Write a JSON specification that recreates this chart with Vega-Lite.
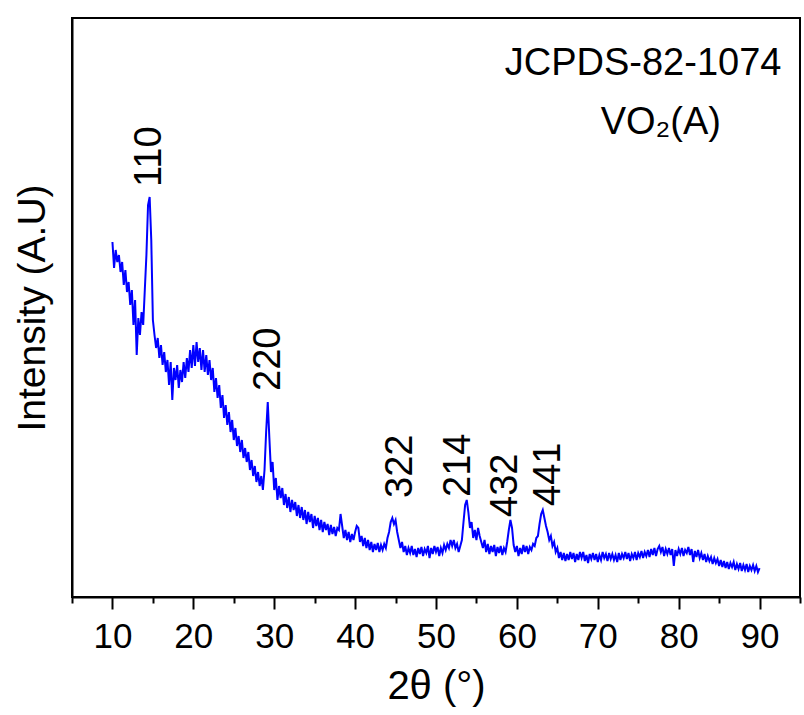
{
  "$schema": "https://vega.github.io/schema/vega-lite/v6.json",
  "width": 728,
  "height": 579,
  "autosize": {"type": "none"},
  "padding": {"left": 72, "top": 18, "right": 4, "bottom": 118},
  "background": "white",
  "config": {
    "view": {"stroke": "black", "strokeWidth": 2},
    "font": "Liberation Sans"
  },
  "datasets": {
    "xrd": [
      {"x":10.0,"y":355},{"x":10.2,"y":329},{"x":10.4,"y":347},{"x":10.6,"y":335},{"x":10.8,"y":342},
      {"x":11.0,"y":325},{"x":11.2,"y":335},{"x":11.4,"y":312},{"x":11.6,"y":327},{"x":11.8,"y":305},
      {"x":12.0,"y":315},{"x":12.2,"y":292},{"x":12.4,"y":307},{"x":12.6,"y":272},{"x":12.8,"y":297},
      {"x":13.0,"y":242},{"x":13.2,"y":279},{"x":13.4,"y":262},{"x":13.6,"y":285},{"x":13.8,"y":272},
      {"x":14.0,"y":307},{"x":14.2,"y":342},{"x":14.4,"y":392},{"x":14.6,"y":400},{"x":14.8,"y":357},
      {"x":15.0,"y":277},{"x":15.2,"y":262},{"x":15.4,"y":249},{"x":15.6,"y":259},{"x":15.8,"y":239},
      {"x":16.0,"y":252},{"x":16.2,"y":232},{"x":16.4,"y":245},{"x":16.6,"y":225},{"x":16.8,"y":237},
      {"x":17.0,"y":212},{"x":17.2,"y":235},{"x":17.4,"y":197},{"x":17.6,"y":229},{"x":17.8,"y":217},
      {"x":18.0,"y":232},{"x":18.2,"y":209},{"x":18.4,"y":227},{"x":18.6,"y":215},{"x":18.8,"y":235},
      {"x":19.0,"y":219},{"x":19.2,"y":239},{"x":19.4,"y":225},{"x":19.6,"y":247},{"x":19.8,"y":229},
      {"x":20.0,"y":252},{"x":20.2,"y":231},{"x":20.4,"y":255},{"x":20.6,"y":235},{"x":20.8,"y":249},
      {"x":21.0,"y":227},{"x":21.2,"y":247},{"x":21.4,"y":225},{"x":21.6,"y":242},{"x":21.8,"y":222},
      {"x":22.0,"y":237},{"x":22.2,"y":217},{"x":22.4,"y":229},{"x":22.6,"y":205},{"x":22.8,"y":219},
      {"x":23.0,"y":199},{"x":23.2,"y":212},{"x":23.4,"y":189},{"x":23.6,"y":202},{"x":23.8,"y":179},
      {"x":24.0,"y":192},{"x":24.2,"y":172},{"x":24.4,"y":185},{"x":24.6,"y":165},{"x":24.8,"y":177},
      {"x":25.0,"y":157},{"x":25.2,"y":169},{"x":25.4,"y":151},{"x":25.6,"y":161},{"x":25.8,"y":145},
      {"x":26.0,"y":157},{"x":26.2,"y":139},{"x":26.4,"y":149},{"x":26.6,"y":135},{"x":26.8,"y":145},
      {"x":27.0,"y":127},{"x":27.2,"y":137},{"x":27.4,"y":121},{"x":27.6,"y":131},{"x":27.8,"y":115},
      {"x":28.0,"y":125},{"x":28.2,"y":111},{"x":28.4,"y":121},{"x":28.6,"y":107},{"x":28.8,"y":127},
      {"x":29.0,"y":165},{"x":29.2,"y":195},{"x":29.4,"y":159},{"x":29.6,"y":125},{"x":29.8,"y":135},
      {"x":30.0,"y":107},{"x":30.2,"y":119},{"x":30.4,"y":97},{"x":30.6,"y":111},{"x":30.8,"y":99},
      {"x":31.0,"y":109},{"x":31.2,"y":92},{"x":31.4,"y":103},{"x":31.6,"y":89},{"x":31.8,"y":100},
      {"x":32.0,"y":85},{"x":32.2,"y":97},{"x":32.4,"y":87},{"x":32.6,"y":95},{"x":32.8,"y":81},
      {"x":33.0,"y":92},{"x":33.2,"y":79},{"x":33.4,"y":90},{"x":33.6,"y":77},{"x":33.8,"y":87},
      {"x":34.0,"y":73},{"x":34.2,"y":85},{"x":34.4,"y":75},{"x":34.6,"y":83},{"x":34.8,"y":69},
      {"x":35.0,"y":81},{"x":35.2,"y":71},{"x":35.4,"y":79},{"x":35.6,"y":67},{"x":35.8,"y":77},
      {"x":36.0,"y":65},{"x":36.2,"y":75},{"x":36.4,"y":67},{"x":36.6,"y":73},{"x":36.8,"y":62},
      {"x":37.0,"y":72},{"x":37.2,"y":63},{"x":37.4,"y":70},{"x":37.6,"y":61},{"x":37.8,"y":69},
      {"x":38.0,"y":67},{"x":38.2,"y":83},{"x":38.4,"y":71},{"x":38.6,"y":59},{"x":38.8,"y":67},
      {"x":39.0,"y":57},{"x":39.2,"y":65},{"x":39.4,"y":55},{"x":39.6,"y":63},{"x":39.8,"y":57},
      {"x":40.0,"y":65},{"x":40.2,"y":71},{"x":40.4,"y":69},{"x":40.6,"y":55},{"x":40.8,"y":61},
      {"x":41.0,"y":51},{"x":41.2,"y":59},{"x":41.4,"y":49},{"x":41.6,"y":57},{"x":41.8,"y":47},
      {"x":42.0,"y":55},{"x":42.2,"y":45},{"x":42.4,"y":53},{"x":42.6,"y":47},{"x":42.8,"y":54},
      {"x":43.0,"y":45},{"x":43.2,"y":52},{"x":43.4,"y":47},{"x":43.6,"y":53},{"x":43.8,"y":49},
      {"x":44.0,"y":59},{"x":44.2,"y":65},{"x":44.4,"y":75},{"x":44.6,"y":79},{"x":44.8,"y":73},
      {"x":45.0,"y":77},{"x":45.2,"y":65},{"x":45.4,"y":57},{"x":45.6,"y":49},{"x":45.8,"y":55},
      {"x":46.0,"y":45},{"x":46.2,"y":51},{"x":46.4,"y":42},{"x":46.6,"y":49},{"x":46.8,"y":44},
      {"x":47.0,"y":51},{"x":47.2,"y":42},{"x":47.4,"y":48},{"x":47.6,"y":40},{"x":47.8,"y":49},
      {"x":48.0,"y":43},{"x":48.2,"y":50},{"x":48.4,"y":41},{"x":48.6,"y":48},{"x":48.8,"y":44},
      {"x":49.0,"y":51},{"x":49.2,"y":39},{"x":49.4,"y":49},{"x":49.6,"y":43},{"x":49.8,"y":51},
      {"x":50.0,"y":45},{"x":50.2,"y":50},{"x":50.4,"y":41},{"x":50.6,"y":49},{"x":50.8,"y":44},
      {"x":51.0,"y":52},{"x":51.2,"y":47},{"x":51.4,"y":53},{"x":51.6,"y":49},{"x":51.8,"y":57},
      {"x":52.0,"y":51},{"x":52.2,"y":57},{"x":52.4,"y":49},{"x":52.6,"y":53},{"x":52.8,"y":45},
      {"x":53.0,"y":51},{"x":53.2,"y":57},{"x":53.4,"y":75},{"x":53.6,"y":92},{"x":53.8,"y":97},
      {"x":54.0,"y":85},{"x":54.2,"y":69},{"x":54.4,"y":75},{"x":54.6,"y":59},{"x":54.8,"y":67},
      {"x":55.0,"y":57},{"x":55.2,"y":69},{"x":55.4,"y":61},{"x":55.6,"y":55},{"x":55.8,"y":49},
      {"x":56.0,"y":57},{"x":56.2,"y":45},{"x":56.4,"y":53},{"x":56.6,"y":43},{"x":56.8,"y":51},
      {"x":57.0,"y":45},{"x":57.2,"y":52},{"x":57.4,"y":41},{"x":57.6,"y":50},{"x":57.8,"y":44},
      {"x":58.0,"y":51},{"x":58.2,"y":42},{"x":58.4,"y":49},{"x":58.6,"y":45},{"x":58.8,"y":55},
      {"x":59.0,"y":67},{"x":59.2,"y":77},{"x":59.4,"y":69},{"x":59.6,"y":52},{"x":59.8,"y":45},
      {"x":60.0,"y":51},{"x":60.2,"y":41},{"x":60.4,"y":49},{"x":60.6,"y":43},{"x":60.8,"y":52},
      {"x":61.0,"y":45},{"x":61.2,"y":51},{"x":61.4,"y":43},{"x":61.6,"y":50},{"x":61.8,"y":47},
      {"x":62.0,"y":53},{"x":62.2,"y":51},{"x":62.4,"y":59},{"x":62.6,"y":61},{"x":62.8,"y":73},
      {"x":63.0,"y":83},{"x":63.2,"y":87},{"x":63.4,"y":79},{"x":63.6,"y":71},{"x":63.8,"y":65},
      {"x":64.0,"y":57},{"x":64.2,"y":61},{"x":64.4,"y":51},{"x":64.6,"y":55},{"x":64.8,"y":45},
      {"x":65.0,"y":49},{"x":65.2,"y":39},{"x":65.4,"y":45},{"x":65.6,"y":37},{"x":65.8,"y":44},
      {"x":66.0,"y":36},{"x":66.2,"y":43},{"x":66.4,"y":37},{"x":66.6,"y":45},{"x":66.8,"y":38},
      {"x":67.0,"y":44},{"x":67.2,"y":35},{"x":67.4,"y":43},{"x":67.6,"y":37},{"x":67.8,"y":45},
      {"x":68.0,"y":39},{"x":68.2,"y":45},{"x":68.4,"y":36},{"x":68.6,"y":42},{"x":68.8,"y":34},
      {"x":69.0,"y":43},{"x":69.2,"y":38},{"x":69.4,"y":44},{"x":69.6,"y":37},{"x":69.8,"y":43},
      {"x":70.0,"y":35},{"x":70.2,"y":42},{"x":70.4,"y":37},{"x":70.6,"y":45},{"x":70.8,"y":39},
      {"x":71.0,"y":43},{"x":71.2,"y":36},{"x":71.4,"y":44},{"x":71.6,"y":38},{"x":71.8,"y":43},
      {"x":72.0,"y":37},{"x":72.2,"y":42},{"x":72.4,"y":35},{"x":72.6,"y":44},{"x":72.8,"y":37},
      {"x":73.0,"y":43},{"x":73.2,"y":39},{"x":73.4,"y":45},{"x":73.6,"y":38},{"x":73.8,"y":44},
      {"x":74.0,"y":36},{"x":74.2,"y":43},{"x":74.4,"y":39},{"x":74.6,"y":45},{"x":74.8,"y":37},
      {"x":75.0,"y":44},{"x":75.2,"y":40},{"x":75.4,"y":46},{"x":75.6,"y":39},{"x":75.8,"y":45},
      {"x":76.0,"y":41},{"x":76.2,"y":47},{"x":76.4,"y":40},{"x":76.6,"y":48},{"x":76.8,"y":42},
      {"x":77.0,"y":49},{"x":77.2,"y":41},{"x":77.4,"y":48},{"x":77.6,"y":51},{"x":77.8,"y":45},
      {"x":78.0,"y":50},{"x":78.2,"y":41},{"x":78.4,"y":48},{"x":78.6,"y":43},{"x":78.8,"y":49},
      {"x":79.0,"y":42},{"x":79.2,"y":48},{"x":79.4,"y":31},{"x":79.6,"y":47},{"x":79.8,"y":41},
      {"x":80.0,"y":48},{"x":80.2,"y":43},{"x":80.4,"y":49},{"x":80.6,"y":41},{"x":80.8,"y":47},
      {"x":81.0,"y":44},{"x":81.2,"y":50},{"x":81.4,"y":42},{"x":81.6,"y":48},{"x":81.8,"y":35},
      {"x":82.0,"y":46},{"x":82.2,"y":40},{"x":82.4,"y":47},{"x":82.6,"y":39},{"x":82.8,"y":44},
      {"x":83.0,"y":37},{"x":83.2,"y":43},{"x":83.4,"y":35},{"x":83.6,"y":41},{"x":83.8,"y":36},
      {"x":84.0,"y":40},{"x":84.2,"y":33},{"x":84.4,"y":39},{"x":84.6,"y":34},{"x":84.8,"y":38},
      {"x":85.0,"y":31},{"x":85.2,"y":37},{"x":85.4,"y":30},{"x":85.6,"y":36},{"x":85.8,"y":29},
      {"x":86.0,"y":35},{"x":86.2,"y":28},{"x":86.4,"y":34},{"x":86.6,"y":30},{"x":86.8,"y":35},
      {"x":87.0,"y":27},{"x":87.2,"y":33},{"x":87.4,"y":28},{"x":87.6,"y":34},{"x":87.8,"y":26},
      {"x":88.0,"y":32},{"x":88.2,"y":27},{"x":88.4,"y":33},{"x":88.6,"y":25},{"x":88.8,"y":31},
      {"x":89.0,"y":27},{"x":89.2,"y":32},{"x":89.4,"y":26},{"x":89.6,"y":31},{"x":89.8,"y":25},
      {"x":90.0,"y":29}
    ],
    "peaks": [
      {"x":14.6,"y":410,"label":"110"},
      {"x":29.4,"y":206,"label":"220"},
      {"x":45.7,"y":99,"label":"322"},
      {"x":52.8,"y":100,"label":"214"},
      {"x":58.6,"y":80,"label":"432"},
      {"x":64.0,"y":91,"label":"441"}
    ],
    "notes": [
      {"x":75.6,"y":533,"label":"JCPDS-82-1074"},
      {"x":77.8,"y":474,"label":"VO₂(A)"}
    ]
  },
  "encoding": {
    "x": {
      "field": "x",
      "type": "quantitative",
      "scale": {"domain": [5, 95], "nice": false, "zero": false},
      "axis": {
        "title": "2θ (°)",
        "values": [5,10,15,20,25,30,35,40,45,50,55,60,65,70,75,80,85,90,95],
        "labelExpr": "datum.value % 10 === 0 ? datum.label : ''",
        "tickSize": {"condition": {"test": "datum.value % 10 === 0", "value": 12}, "value": 6},
        "tickWidth": 2,
        "tickColor": "black",
        "domainColor": "black",
        "domainWidth": 2,
        "grid": false,
        "labelFont": "Liberation Sans",
        "labelFontSize": 35,
        "labelColor": "black",
        "labelPadding": 10,
        "labelOverlap": false,
        "labelFlush": false,
        "titleFont": "Liberation Sans",
        "titleFontSize": 40,
        "titleFontWeight": "normal",
        "titleColor": "black",
        "titlePadding": 12
      }
    },
    "y": {
      "field": "y",
      "type": "quantitative",
      "scale": {"domain": [0, 579], "nice": false, "zero": false},
      "axis": {
        "title": "Intensity (A.U)",
        "ticks": false,
        "labels": false,
        "grid": false,
        "domainColor": "black",
        "domainWidth": 2,
        "titleFont": "Liberation Sans",
        "titleFontSize": 39,
        "titleFontWeight": "normal",
        "titleColor": "black",
        "titlePadding": 20
      }
    }
  },
  "layer": [
    {
      "data": {"name": "xrd"},
      "mark": {"type": "line", "color": "#0000ff", "strokeWidth": 2, "interpolate": "linear"}
    },
    {
      "data": {"name": "peaks"},
      "mark": {"type": "text", "angle": 270, "align": "left", "baseline": "middle", "fontSize": 38, "font": "Liberation Sans", "color": "black"},
      "encoding": {"text": {"field": "label", "type": "nominal"}}
    },
    {
      "data": {"name": "notes"},
      "mark": {"type": "text", "align": "center", "baseline": "middle", "fontSize": 38, "font": "Liberation Sans", "color": "black"},
      "encoding": {"text": {"field": "label", "type": "nominal"}}
    }
  ]
}
